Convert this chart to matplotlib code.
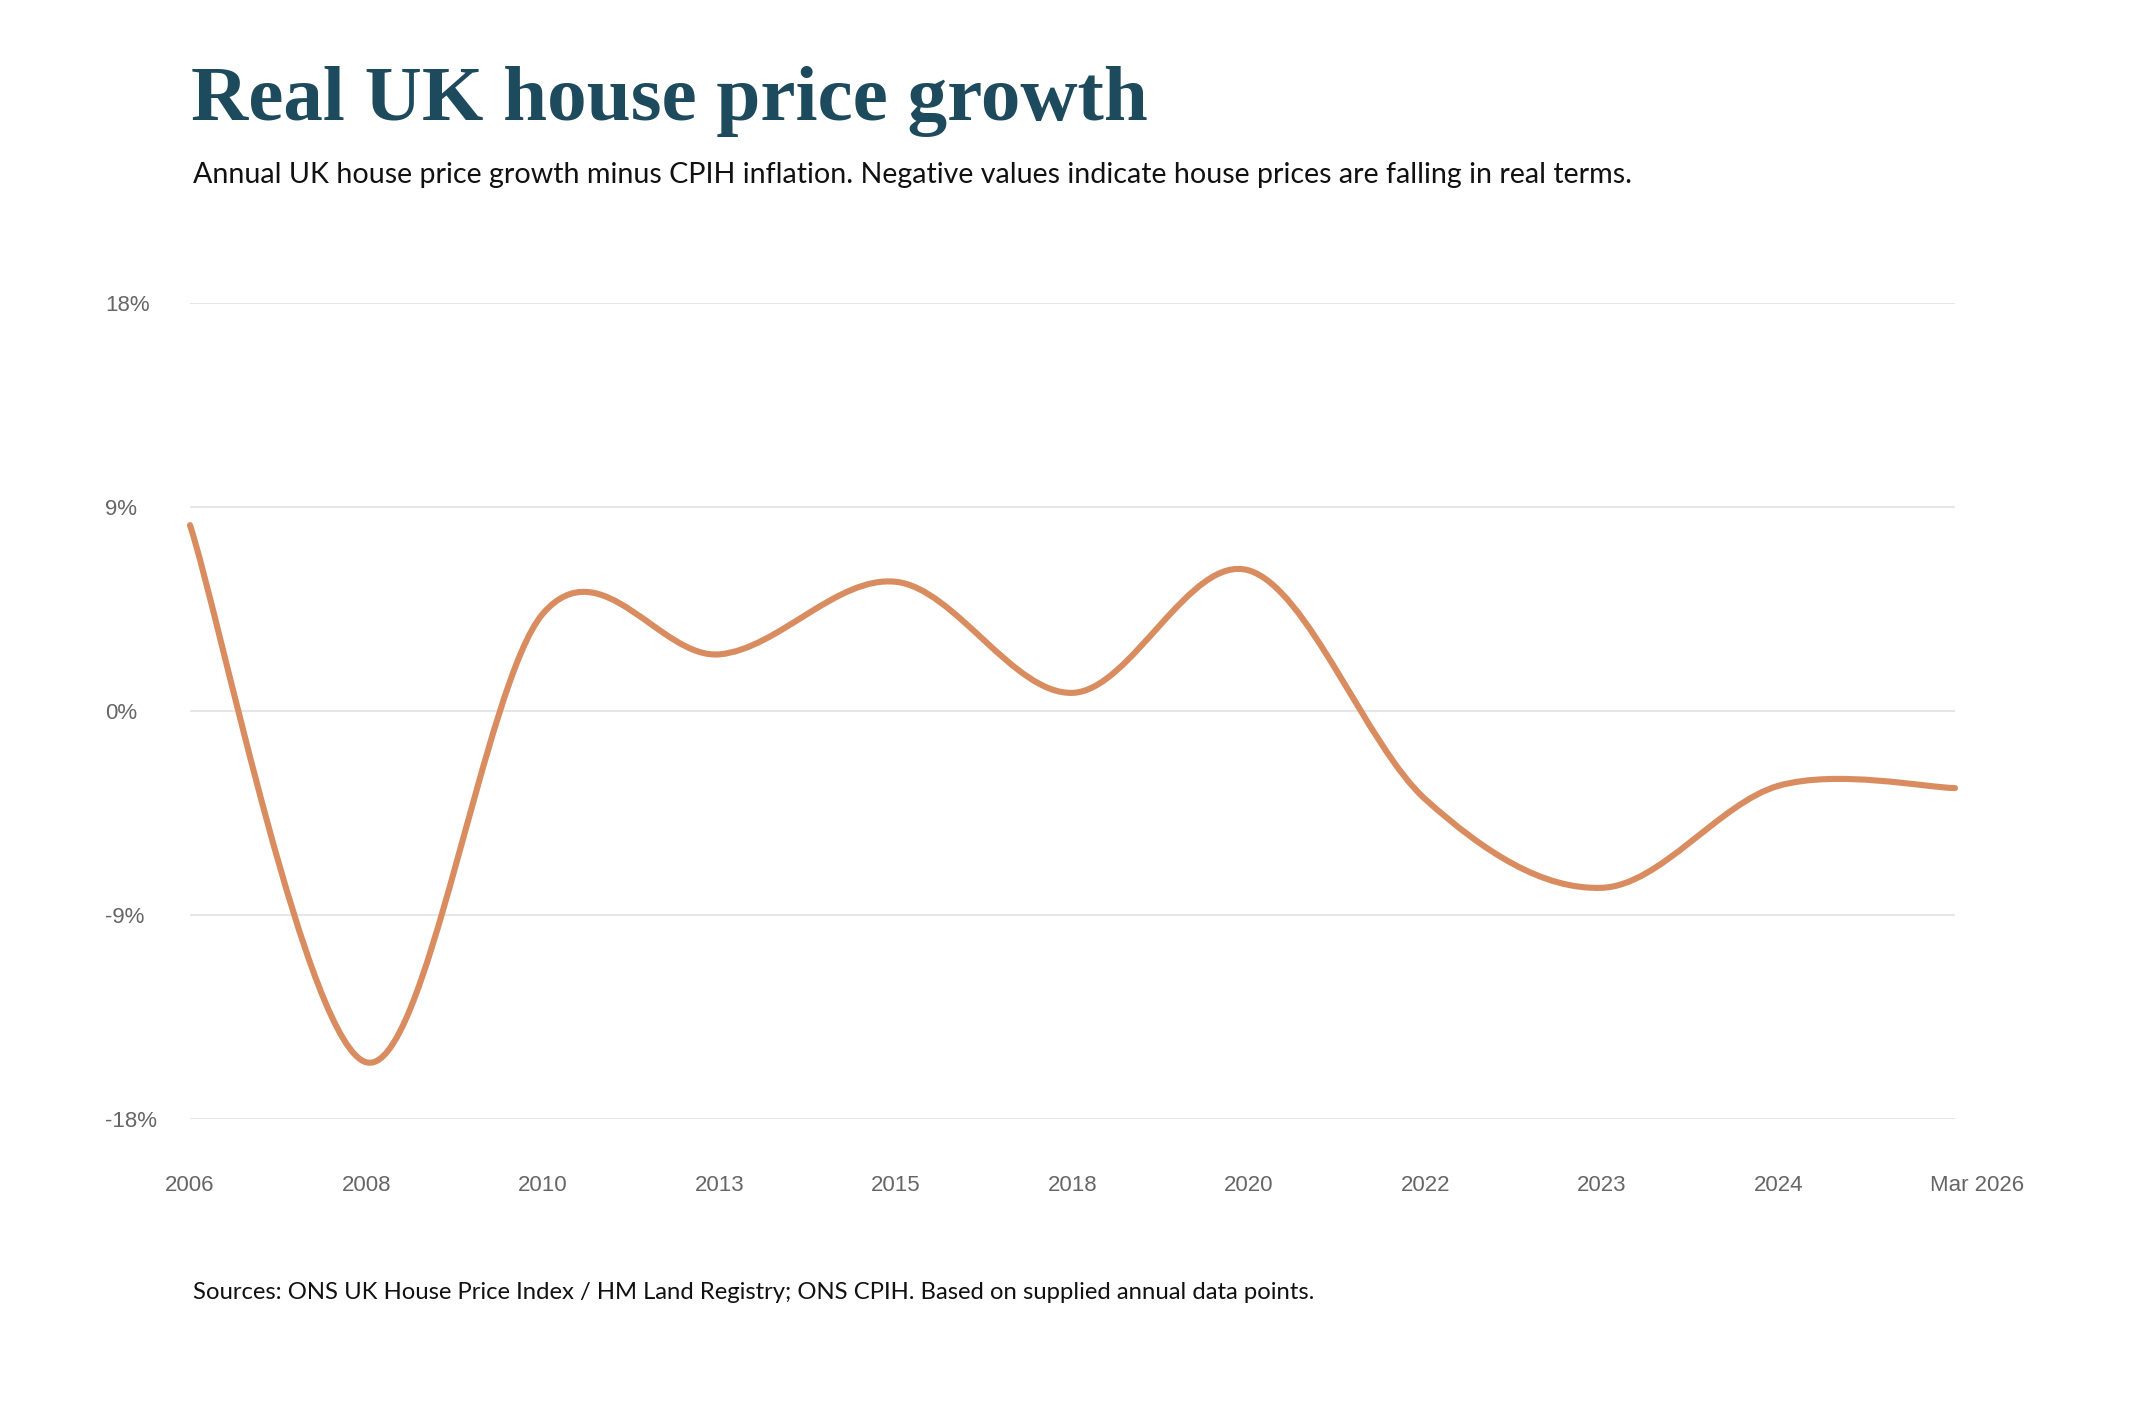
import numpy as np
import matplotlib
matplotlib.use("Agg")
import matplotlib.pyplot as plt
import matplotlib.transforms as mtransforms
from matplotlib.path import Path
from matplotlib.patches import PathPatch

# data
years = ["2006", "2008", "2010", "2013", "2015", "2018", "2020", "2022", "2023", "2024", "Mar 2026"]
real_growth = [8.2, -15.5, 4.3, 2.5, 5.7, 0.8, 6.2, -3.9, -7.8, -3.3, -3.4]
yticks = [-18, -9, 0, 9, 18]
ytick_labels = ["-18%", "-9%", "0%", "9%", "18%"]

TITLE = "Real UK house price growth"
SUBTITLE = ("Annual UK house price growth minus CPIH inflation. "
            "Negative values indicate house prices are falling in real terms.")
SOURCE = ("Sources: ONS UK House Price Index / HM Land Registry; ONS CPIH. "
          "Based on supplied annual data points.")

LINE_COL = "#d98c5f"
TITLE_COL = "#1d4a5c"
TICK_COL = "#666666"
GRID_COL = "#e2e2e2"


def cardinal_path(xs, ys):
    # catmull-rom style smooth curve as cubic bezier segments
    n = len(xs)
    px = [xs[0]] + list(xs) + [xs[-1]]
    py = [ys[0]] + list(ys) + [ys[-1]]
    verts = [(xs[0], ys[0])]
    codes = [Path.MOVETO]
    for i in range(1, n):
        x0, y0 = px[i - 1], py[i - 1]
        x1, y1 = px[i], py[i]
        x2, y2 = px[i + 1], py[i + 1]
        x3, y3 = px[i + 2], py[i + 2]
        verts += [(x1 + (x2 - x0) / 6, y1 + (y2 - y0) / 6),
                  (x2 - (x3 - x1) / 6, y2 - (y3 - y1) / 6),
                  (x2, y2)]
        codes += [Path.CURVE4] * 3
    return Path(verts, codes)


fig = plt.figure(figsize=(10.665, 7.11), dpi=200)
W, H = 2133, 1422
ax = fig.add_axes([190 / W, 1 - 1119 / H, (1955 - 190) / W, (1119 - 303) / H])

x = np.arange(len(years))
patch = PathPatch(cardinal_path(x, real_growth), facecolor="none",
                  edgecolor=LINE_COL, lw=2.2, capstyle="round",
                  joinstyle="round", clip_on=False, zorder=3)
ax.add_patch(patch)

ax.set_xlim(0, len(years) - 1)
ax.set_ylim(-18, 18)
ax.set_yticks(yticks)
ax.set_yticklabels(ytick_labels)
ax.set_xticks(x)
ax.set_xticklabels(years)
for s in ax.spines.values():
    s.set_visible(False)
ax.grid(axis="y", color=GRID_COL, lw=0.6)
ax.set_axisbelow(True)
ax.tick_params(axis="both", length=0, colors=TICK_COL, labelsize=8)
ax.tick_params(axis="y", pad=30.6)
ax.tick_params(axis="x", pad=20)
for lab in ax.get_yticklabels():
    lab.set_horizontalalignment("left")
    lab.set_fontfamily(["Liberation Sans", "DejaVu Sans"])
for lab in ax.get_xticklabels():
    lab.set_fontfamily(["Liberation Sans", "DejaVu Sans"])
# last label sits a little right of its tick
last = ax.get_xticklabels()[-1]
last.set_transform(last.get_transform() +
                   mtransforms.ScaledTranslation(8 / 72, 0, fig.dpi_scale_trans))

fig.text(191 / W, 1 - 120 / H, TITLE, fontsize=28.5, fontweight="bold",
         family=["Liberation Serif", "DejaVu Serif"], color=TITLE_COL,
         va="baseline", ha="left")
fig.text(193 / W, 1 - 183 / H, SUBTITLE, fontsize=10.3,
         family=["Lato", "DejaVu Sans"], color="#111111",
         va="baseline", ha="left")
fig.text(193 / W, 1 - 1299 / H, SOURCE, fontsize=8.6,
         family=["Lato", "DejaVu Sans"], color="#111111",
         va="baseline", ha="left")

fig.savefig("out.png", dpi=200, facecolor="white")
